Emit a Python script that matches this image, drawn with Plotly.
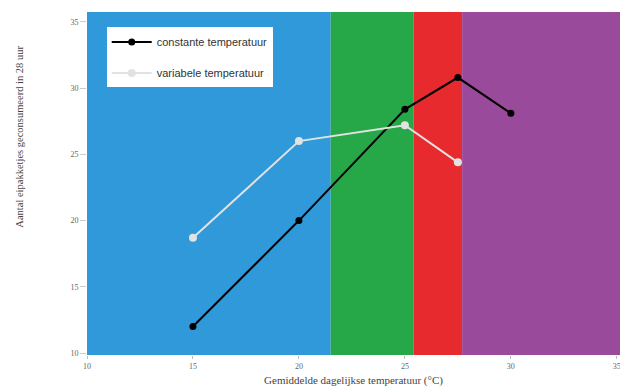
import plotly.graph_objects as go

temp_const = [15, 20, 25, 27.5, 30]
vals_const = [12, 20, 28.4, 30.8, 28.1]
temp_var = [15, 20, 25, 27.5]
vals_var = [18.7, 26.0, 27.2, 24.4]

bands = [(10, 21.5, "#2f99d9"), (21.5, 25.4, "#27a848"), (25.4, 27.7, "#e62a2e"), (27.7, 35.2, "#9a4a9b")]
x_ticks = [10, 15, 20, 25, 30, 35]
y_ticks = [10, 15, 20, 25, 30, 35]

fig = go.Figure()
for x0, x1, c in bands:
    fig.add_shape(type="rect", xref="x", yref="paper", x0=x0, x1=x1, y0=0, y1=1,
                  fillcolor=c, line_width=0, layer="below")

fig.add_trace(go.Scatter(x=temp_const, y=vals_const, mode="lines+markers",
                         name="constante temperatuur", legendgroup="a",
                         line=dict(color="black", width=2),
                         marker=dict(color="black", size=7)))
fig.add_trace(go.Scatter(x=temp_var, y=vals_var, mode="lines+markers",
                         name="variabele temperatuur", legendgroup="b",
                         line=dict(color="#e2e2e2", width=2),
                         marker=dict(color="#e2e2e2", size=8)))

serif = "Liberation Serif, Times New Roman, serif"
fig.update_layout(
    width=620, height=391,
    margin=dict(l=87, r=0, t=12, b=36, autoexpand=False),
    paper_bgcolor="white", plot_bgcolor="white",
    showlegend=True,
    legend=dict(x=0.037, y=0.955, xanchor="left", yanchor="top",
                bgcolor="white", borderwidth=0, tracegroupgap=12,
                font=dict(family="Liberation Sans, Arial, sans-serif", size=11, color="#333"),
                itemwidth=40),
    xaxis=dict(range=[10, 35.15], tickvals=x_ticks, showgrid=False, zeroline=False,
               ticks="outside", ticklen=3, tickcolor="#bbb", ticklabeloverflow="allow",
               tickfont=dict(family=serif, size=8, color="#666"),
               title=dict(text="Gemiddelde dagelijkse temperatuur (°C)",
                          font=dict(family=serif, size=11, color="#444"), standoff=6)),
    yaxis=dict(range=[9.85, 35.75], tickvals=y_ticks, showgrid=False, zeroline=False,
               ticks="outside", ticklen=6, tickcolor="#ccc",
               tickfont=dict(family=serif, size=8, color="#666")),
    annotations=[dict(text="Aantal eipakketjes geconsumeerd in 28 uur",
                      xref="paper", yref="paper", x=-0.126, y=0.636, textangle=-90,
                      showarrow=False, xanchor="center", yanchor="middle",
                      font=dict(family=serif, size=10.5, color="#444"))],
)

fig.write_html("out.html", config={"displayModeBar": False},
               post_script="document.body.style.margin='0';document.body.style.overflow='hidden';")
